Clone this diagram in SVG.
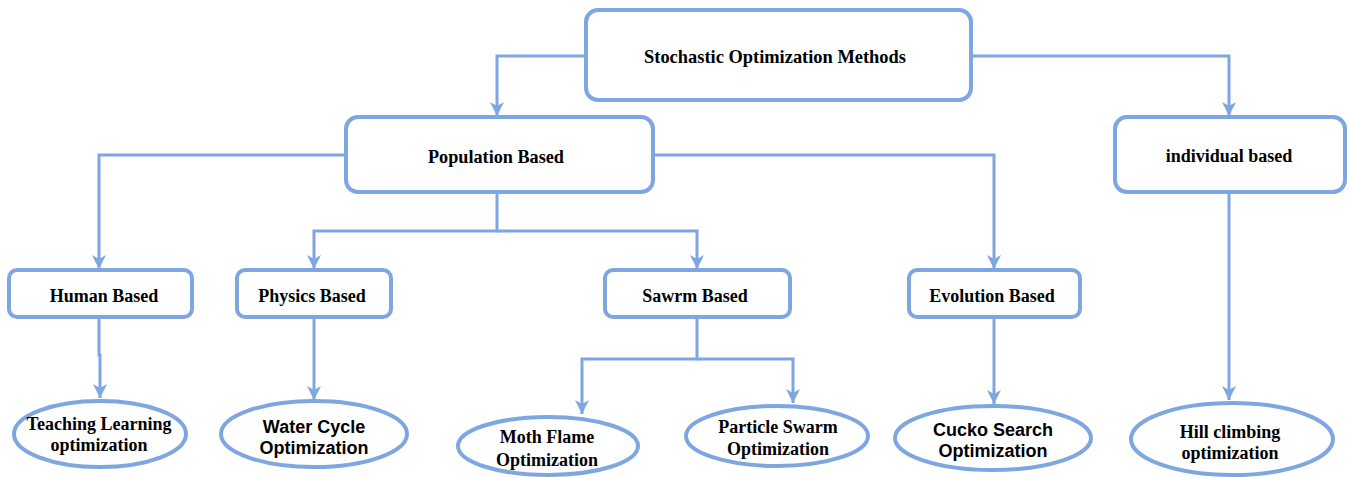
<svg xmlns="http://www.w3.org/2000/svg" width="1350" height="477" viewBox="0 0 1350 477">
  <defs>
    <marker id="arrow" markerUnits="userSpaceOnUse" markerWidth="16" markerHeight="16" viewBox="0 0 16 16" refX="15" refY="8" orient="auto">
      <path d="M1,1 L15,8 L1,15 L5,8 Z" fill="#7ea6e0"/>
    </marker>
  </defs>
  <style>
    .box { fill: #ffffff; stroke: #7ea6e0; stroke-width: 4; }
    .oval { fill: #ffffff; stroke: #7ea6e0; stroke-width: 4; }
    .link { fill: none; stroke: #7ea6e0; stroke-width: 3; }
    .lab { font-family: "Liberation Serif", "Times New Roman", serif; font-weight: bold; font-size: 18px; fill: #000; text-anchor: middle; }
    .tall { font-size: 19px; }
    .sans { font-family: "Liberation Sans", Arial, sans-serif; font-weight: bold; font-size: 18px; fill: #000; text-anchor: middle; }
  </style>

  <g id="connectors">
    <path class="link" d="M586,56 H497 V116" marker-end="url(#arrow)"/>
    <path class="link" d="M971,56 H1229 V116" marker-end="url(#arrow)"/>
    <path class="link" d="M346,155 H99 V269" marker-end="url(#arrow)"/>
    <path class="link" d="M653,155 H994 V269" marker-end="url(#arrow)"/>
    <path class="link" d="M497,192 V231 H314 V269" marker-end="url(#arrow)"/>
    <path class="link" d="M497,231 H697 V269" marker-end="url(#arrow)"/>
    <path class="link" d="M99,317 V355 H100 V398" marker-end="url(#arrow)"/>
    <path class="link" d="M314,317 V400" marker-end="url(#arrow)"/>
    <path class="link" d="M697,317 V359 H582 V414" marker-end="url(#arrow)"/>
    <path class="link" d="M697,359 H793 V403" marker-end="url(#arrow)"/>
    <path class="link" d="M994,317 V404" marker-end="url(#arrow)"/>
    <path class="link" d="M1229,192 V400" marker-end="url(#arrow)"/>
  </g>

  <g id="stochastic">
    <rect class="box" x="586" y="10" width="385" height="90" rx="12"/>
    <text class="lab tall" x="775" y="63" textLength="262" lengthAdjust="spacingAndGlyphs">Stochastic Optimization Methods</text>
  </g>
  <g id="population">
    <rect class="box" x="346" y="117" width="307" height="75" rx="12"/>
    <text class="lab tall" x="496" y="163" textLength="136" lengthAdjust="spacingAndGlyphs">Population Based</text>
  </g>
  <g id="individual">
    <rect class="box" x="1115" y="117" width="230" height="75" rx="12"/>
    <text class="lab" x="1229" y="162">individual based</text>
  </g>

  <g id="human">
    <rect class="box" x="9" y="270" width="183" height="47" rx="8"/>
    <text class="lab" x="104" y="302">Human Based</text>
  </g>
  <g id="physics">
    <rect class="box" x="237" y="270" width="154" height="47" rx="8"/>
    <text class="lab" x="312" y="302">Physics Based</text>
  </g>
  <g id="swarm">
    <rect class="box" x="605" y="270" width="185" height="47" rx="8"/>
    <text class="lab" x="695" y="302">Sawrm Based</text>
  </g>
  <g id="evolution">
    <rect class="box" x="909" y="270" width="171" height="47" rx="8"/>
    <text class="lab" x="992" y="302">Evolution Based</text>
  </g>

  <g id="teaching">
    <ellipse class="oval" cx="100" cy="434" rx="86" ry="33"/>
    <text class="lab" x="99" y="430">Teaching Learning</text>
    <text class="lab" x="99" y="451">optimization</text>
  </g>
  <g id="water">
    <ellipse class="oval" cx="314" cy="434" rx="93" ry="33"/>
    <text class="sans" x="314" y="433">Water Cycle</text>
    <text class="sans" x="314" y="454">Optimization</text>
  </g>
  <g id="moth">
    <ellipse class="oval" cx="548" cy="446" rx="90" ry="29"/>
    <text class="lab" x="547" y="443">Moth Flame</text>
    <text class="lab" x="547" y="466">Optimization</text>
  </g>
  <g id="particle">
    <ellipse class="oval" cx="777" cy="436" rx="91" ry="30"/>
    <text class="lab" x="778" y="433">Particle Swarm</text>
    <text class="lab" x="778" y="455">Optimization</text>
  </g>
  <g id="cuckoo">
    <ellipse class="oval" cx="993" cy="438" rx="98" ry="32"/>
    <text class="sans" x="993" y="436">Cucko Search</text>
    <text class="sans" x="993" y="457">Optimization</text>
  </g>
  <g id="hill">
    <ellipse class="oval" cx="1232" cy="439" rx="101" ry="36"/>
    <text class="lab" x="1230" y="438">Hill climbing</text>
    <text class="lab" x="1230" y="459">optimization</text>
  </g>
</svg>
